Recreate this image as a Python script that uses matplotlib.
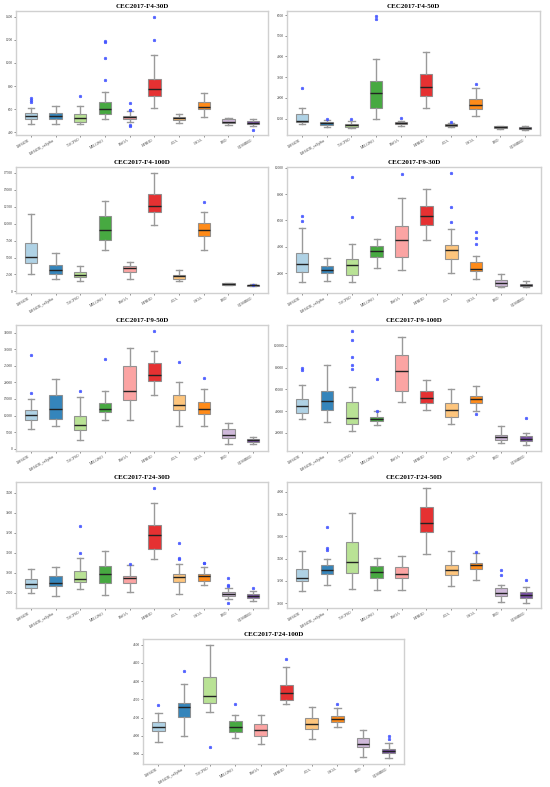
import matplotlib
matplotlib.use("Agg")
import matplotlib.pyplot as plt

plt.rcParams['font.family'] = ['Liberation Serif', 'DejaVu Serif']

algos = ["LSHADE", "LSHADE_cnEpSin", "TACPSO", "MELGWO", "EWOA",
         "HPHHO", "AOA", "CSOA", "BBO", "QCSSBBO"]
colors = ["#a6cee3", "#1f78b4", "#b2df8a", "#33a02c", "#fb9a99",
          "#e31a1c", "#fdbf6f", "#ff7f00", "#cab2d6", "#6a3d9a"]

# (low whisker, q1, median, q3, high whisker) per algorithm
f4_30_stats = [(472, 515, 541, 564, 607), (472, 518, 541, 564, 625), (472, 486, 524, 556, 625),
               (512, 561, 599, 662, 746), (489, 515, 530, 544, 581), (613, 717, 772, 858, 1068),
               (478, 507, 521, 535, 558), (535, 599, 622, 659, 737), (463, 484, 492, 515, 521),
               (458, 469, 481, 495, 518)]
f4_30_fliers = [[694, 680, 665], [], [717], [852, 1039, 1192, 1184], [651, 596, 590, 460, 455],
                [1198, 1400], [], [], [], [420]]

f4_50_stats = [(727, 855, 904, 1209, 1498), (614, 694, 775, 839, 912), (534, 614, 678, 743, 887),
               (984, 1515, 2254, 2817, 3863), (646, 743, 807, 839, 904), (1531, 2093, 2512, 3155, 4216),
               (582, 646, 694, 727, 775), (1129, 1482, 1659, 1933, 2463), (518, 550, 598, 630, 662),
               (470, 502, 534, 582, 630)]
f4_50_fliers = [[2463], [960], [984], [5953, 5792], [1048], [], [823], [2672], [], []]

f4_100_stats = [(2630, 4188, 5065, 7159, 11445), (1851, 2581, 3166, 3847, 5649), (1558, 2143, 2386, 2825, 3750),
                (6088, 7549, 9107, 11104, 13393), (1899, 2922, 3409, 3750, 4383), (9740, 11688, 12613, 14415, 17483),
                (1558, 1851, 2240, 2484, 3214), (6136, 8230, 9107, 10081, 11785), (925, 974, 1071, 1169, 1266),
                (779, 828, 877, 974, 1071)]
f4_100_fliers = [[], [], [], [], [], [], [], [13246], [], [900]]

f9_30_stats = [(1346, 2050, 2654, 3535, 5422), (1421, 2000, 2252, 2503, 3183), (1296, 1874, 2579, 3057, 4214),
               (2377, 3233, 3711, 4038, 4617), (2201, 3233, 4516, 5598, 7686), (4541, 5673, 6328, 7057, 8366),
               (2025, 3082, 3761, 4139, 5371), (1572, 2126, 2327, 2830, 3308), (918, 1019, 1270, 1446, 1950),
               (918, 994, 1094, 1195, 1396)]
f9_30_fliers = [[6353, 5950], [], [9322, 6277], [], [9548], [], [9573, 7007, 5900],
                [5095, 4692, 4189], [], []]

f9_50_stats = [(6000, 8800, 10200, 11700, 15100), (6700, 9000, 11900, 16100, 21100), (2500, 5600, 7000, 10000, 15600),
               (8700, 11100, 12100, 13700, 17300), (8600, 14800, 17400, 24800, 30300), (16200, 20400, 22300, 25900, 29600),
               (6800, 11600, 13300, 16100, 20100), (6900, 10500, 12100, 14200, 18000), (1400, 3300, 4000, 5900, 7700),
               (1500, 2000, 2600, 3000, 3600)]
f9_50_fliers = [[28300, 16800], [], [17300], [26900], [], [35600], [26100], [21400], [], []]

f9_100_stats = [(32380, 38110, 44760, 50790, 64080), (29660, 41430, 49280, 58040, 82190),
                (21810, 28450, 33590, 48080, 62270), (26940, 30870, 32980, 34490, 39930),
                (48080, 58340, 76450, 91850, 108200), (41430, 47170, 52000, 58640, 68610),
                (28150, 34490, 41130, 47170, 60150), (39930, 47770, 50790, 53510, 62870),
                (10940, 13360, 16680, 18490, 26340), (9130, 12450, 14260, 17580, 20000)]
f9_100_fliers = [[79780, 77360], [], [113600, 105400, 89440, 81890, 78870], [69810, 40530],
                 [], [], [], [36910], [], [33890]]

f24_30_stats = [(2900, 2923, 2945, 2968, 3018), (2887, 2935, 2952, 2985, 3030), (2920, 2953, 2970, 3012, 3077),
                (2892, 2952, 2995, 3033, 3112), (2905, 2950, 2973, 2987, 3038), (3072, 3122, 3188, 3242, 3348),
                (2897, 2957, 2980, 2997, 3047), (2942, 2960, 2983, 2995, 3028), (2870, 2883, 2893, 2903, 2923),
                (2858, 2875, 2883, 2893, 2910)]
f24_30_fliers = [[], [], [3235, 3098], [], [3043], [3427], [3150, 3073, 3072], [3052, 3048],
                 [2977, 2942, 2933, 2850], [2923]]

f24_50_stats = [(3107, 3203, 3230, 3310, 3472), (3161, 3260, 3299, 3340, 3397), (3131, 3275, 3370, 3549, 3809),
                (3119, 3224, 3284, 3331, 3403), (3119, 3227, 3266, 3325, 3427), (3439, 3636, 3722, 3866, 4036),
                (3155, 3257, 3296, 3346, 3472), (3212, 3304, 3346, 3364, 3451), (3015, 3066, 3090, 3134, 3164),
                (3006, 3051, 3075, 3099, 3146)]
f24_50_fliers = [[], [3684, 3496, 3481], [], [], [], [], [], [3463], [3298, 3254], [3206]]

f24_100_stats = [(3964, 4026, 4048, 4075, 4125), (3997, 4101, 4158, 4182, 4284), (4128, 4180, 4218, 4320, 4500),
                 (3986, 4021, 4048, 4083, 4114), (3957, 3997, 4033, 4065, 4114), (4176, 4198, 4236, 4278, 4377),
                 (3980, 4037, 4065, 4096, 4158), (4050, 4077, 4094, 4108, 4150), (3884, 3938, 3957, 3988, 4033),
                 (3876, 3904, 3916, 3929, 3958)]
f24_100_fliers = [[4171], [4353], [3937], [4176], [], [4419], [], [4172], [], [4001, 3982]]

panels = [
    ("CEC2017-F4-30D", f4_30_stats, f4_30_fliers, (377, 1448), [400, 600, 800, 1000, 1200, 1400]),
    ("CEC2017-F4-50D", f4_50_stats, f4_50_fliers, (212, 6194), [1000, 2000, 3000, 4000, 5000, 6000]),
    ("CEC2017-F4-100D", f4_100_stats, f4_100_fliers, (-240, 18360), list(range(0, 17501, 2500))),
    ("CEC2017-F9-30D", f9_30_stats, f9_30_fliers, (490, 10050), [2000, 4000, 6000, 8000, 10000]),
    ("CEC2017-F9-50D", f9_50_stats, f9_50_fliers, (-700, 37300), list(range(0, 35001, 5000))),
    ("CEC2017-F9-100D", f9_100_stats, f9_100_fliers, (3400, 119000), [20000, 40000, 60000, 80000, 100000]),
    ("CEC2017-F24-30D", f24_30_stats, f24_30_fliers, (2825, 3455), [2900, 3000, 3100, 3200, 3300, 3400]),
    ("CEC2017-F24-50D", f24_50_stats, f24_50_fliers, (2958, 4087), [3000, 3200, 3400, 3600, 3800, 4000]),
    ("CEC2017-F24-100D", f24_100_stats, f24_100_fliers, (3845, 4531), [3900, 4000, 4100, 4200, 4300, 4400, 4500]),
]

W, H = 550, 787
# axes boxes in pixels: left, top, right, bottom
boxes = [(16, 11, 268, 135), (287, 11, 540, 135),
         (16, 167, 268, 293), (287, 167, 541, 293),
         (16, 325, 268, 451), (287, 325, 541, 451),
         (16, 482, 268, 608), (287, 482, 541, 608),
         (143, 639, 404, 764)]

fig = plt.figure(figsize=(W / 100, H / 100), dpi=100)

for (title, stats, fliers, ylim, yticks), (l, t, r, b) in zip(panels, boxes):
    ax = fig.add_axes([l / W, 1 - b / H, (r - l) / W, (b - t) / H])
    bx = []
    for name, s, fl in zip(algos, stats, fliers):
        bx.append(dict(label=name, whislo=s[0], q1=s[1], med=s[2], q3=s[3], whishi=s[4], fliers=fl))
    res = ax.bxp(bx, positions=range(len(algos)), widths=0.5, patch_artist=True,
                 boxprops=dict(edgecolor="#8a8a8a", linewidth=0.8),
                 whiskerprops=dict(color="#9a9a9a", linewidth=1.0),
                 capprops=dict(color="#9a9a9a", linewidth=1.0),
                 medianprops=dict(color="#222222", linewidth=1.0),
                 flierprops=dict(marker="*", markersize=2.0, markerfacecolor="#4455ff",
                                 markeredgecolor="#4455ff", alpha=0.8, linestyle="none"))
    for patch, c in zip(res["boxes"], colors):
        patch.set_facecolor(c)
        patch.set_alpha(0.9)
    ax.set_xlim(-0.6, len(algos) - 0.4)
    ax.set_ylim(*ylim)
    ax.set_yticks(yticks)
    ax.set_yticklabels([str(v) for v in yticks], fontsize=2.6)
    ax.set_xticks(range(len(algos)))
    ax.set_xticklabels(algos, fontsize=2.6, rotation=30, ha="right")
    ax.tick_params(length=1.2, width=0.4, pad=1, colors="#333333")
    for sp in ax.spines.values():
        sp.set_color("#d0d0d0")
        sp.set_linewidth(1.0)
    ax.set_title(title, fontsize=5, fontweight="bold", pad=2.5)

fig.savefig("out.png", dpi=100)
